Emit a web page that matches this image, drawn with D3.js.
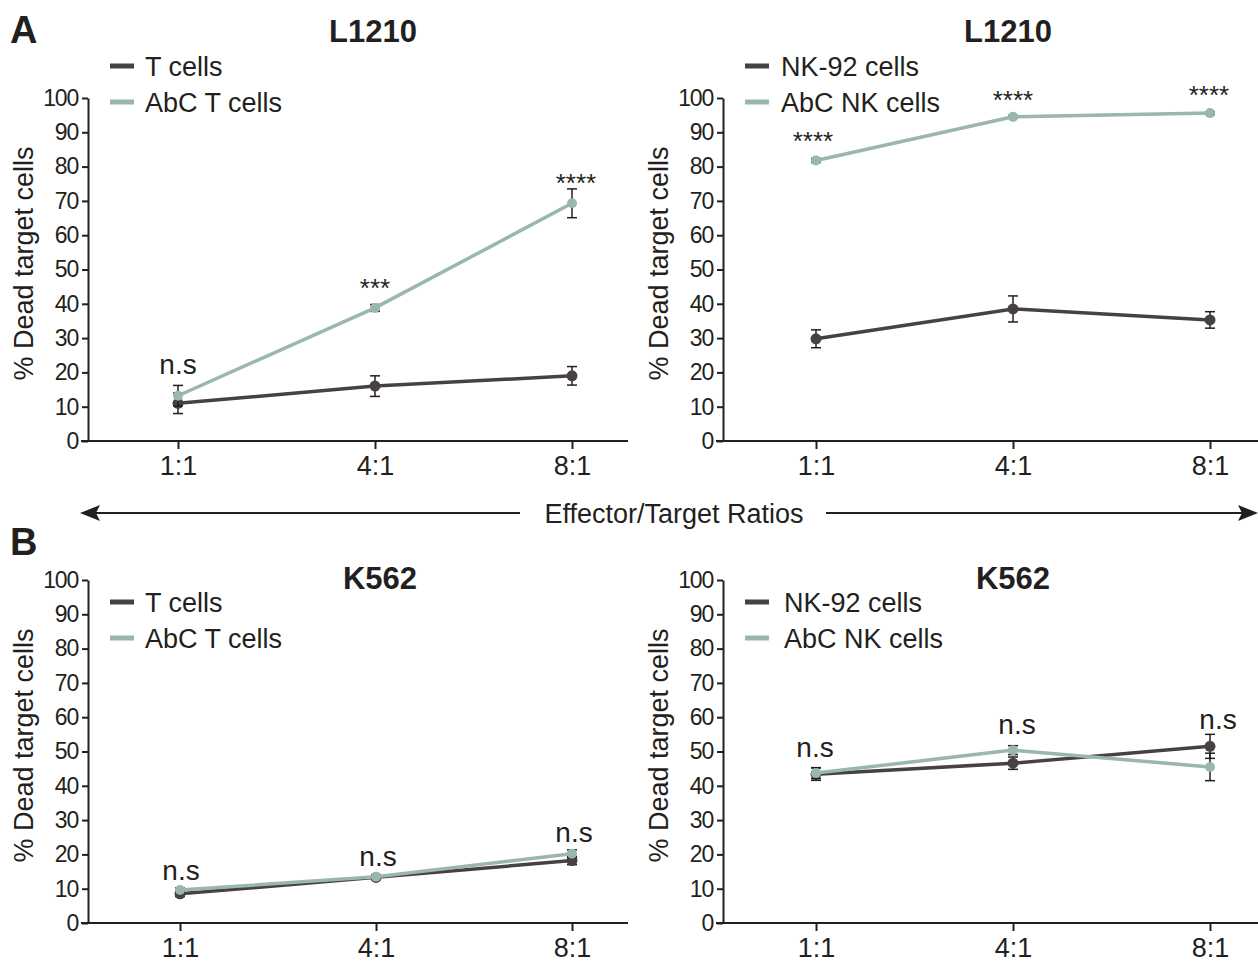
<!DOCTYPE html>
<html>
<head>
<meta charset="utf-8">
<script src="https://cdn.jsdelivr.net/npm/d3@7"></script>
<style>
  body { margin: 0; background: #fff; }
  text { font-family: "Liberation Sans", Arial, sans-serif; fill: #231f20; }
</style>
</head>
<body>
<svg id="chart" width="1258" height="962"></svg>
<script>
// values (mean, error)
var ratios = ['1:1', '4:1', '8:1'],
    yTicks = [0, 10, 20, 30, 40, 50, 60, 70, 80, 90, 100];

var l1210T = [11, 16, 19],         l1210TErr = [3, 3, 2.7],
    l1210AbcT = [13.2, 38.8, 69.3], l1210AbcTErr = [3, 1, 4.2],
    l1210Nk = [29.8, 38.5, 35.3],   l1210NkErr = [2.6, 3.8, 2.4],
    l1210AbcNk = [81.8, 94.5, 95.6],l1210AbcNkErr = [0.6, 0.4, 0.4];

var k562T = [8.5, 13.3, 18.2],      k562TErr = [0.8, 0.6, 1.2],
    k562AbcT = [9.6, 13.5, 20.2],   k562AbcTErr = [0.6, 0.5, 1.1],
    k562Nk = [43.4, 46.6, 51.5],    k562NkErr = [1.8, 1.8, 3.5],
    k562AbcNk = [43.7, 50.4, 45.5], k562AbcNkErr = [1.6, 1.3, 4];

var sigL1210T = ['n.s', '***', '****'],
    sigL1210Nk = ['****', '****', '****'],
    sigK562T = ['n.s', 'n.s', 'n.s'],
    sigK562Nk = ['n.s', 'n.s', 'n.s'];

var DARK = '#474142',
    TEAL = '#99b6af',
    INK = '#231f20';

var svg = d3.select('#chart');

function panel(o) {
    var x = d3.scalePoint().domain(ratios).range(o.xr),
        y = d3.scaleLinear().domain([0, 100]).range(o.yr),
        g = svg.append('g');

    // y axis
    var ya = g.append('g')
        .attr('transform', 'translate(' + o.ax + ',0)')
        .call(d3.axisLeft(y).tickValues(yTicks).tickSize(6).tickSizeOuter(0).tickPadding(4));
    ya.select('.domain').attr('stroke', INK).attr('stroke-width', 2);
    ya.selectAll('.tick line').attr('stroke', INK).attr('stroke-width', 2);
    ya.selectAll('.tick text').style('font-size', '23px').attr('fill', INK)
        .style('letter-spacing', '-1.2px');

    // x axis
    var xa = g.append('g')
        .attr('transform', 'translate(0,' + o.yr[0] + ')')
        .call(d3.axisBottom(x).tickSize(8).tickSizeOuter(0).tickPadding(6));
    xa.select('.domain').remove();
    xa.append('line')
        .attr('x1', o.ax - 7).attr('x2', o.xEnd)
        .attr('stroke', INK).attr('stroke-width', 2);
    xa.selectAll('.tick line').attr('stroke', INK).attr('stroke-width', 2);
    xa.selectAll('.tick text').style('font-size', '27px').attr('fill', INK)
        .attr('dy', '0.75em');

    // y label
    g.append('text')
        .attr('transform', 'translate(' + (o.ax - 55) + ',' + ((o.yr[0] + o.yr[1]) / 2 - 6) + ') rotate(-90)')
        .attr('text-anchor', 'middle')
        .style('font-size', '27px')
        .text('% Dead target cells');

    // title
    g.append('text')
        .attr('x', o.title[1]).attr('y', o.title[2])
        .attr('text-anchor', 'middle')
        .style('font-size', '31px').style('font-weight', 'bold')
        .text(o.title[0]);

    // series
    var line = d3.line().x(function (d) { return x(d.r); }).y(function (d) { return y(d.v); });
    o.series.forEach(function (s) {
        var pts = ratios.map(function (r, i) { return { r: r, v: s.vals[i], e: s.err[i] }; });
        var sg = g.append('g');
        sg.selectAll('line.err').data(pts).enter().append('line')
            .attr('x1', function (d) { return x(d.r); }).attr('x2', function (d) { return x(d.r); })
            .attr('y1', function (d) { return y(d.v - d.e); }).attr('y2', function (d) { return y(d.v + d.e); })
            .attr('stroke', INK).attr('stroke-width', 1.5);
        [-1, 1].forEach(function (sgn) {
            sg.selectAll(null).data(pts).enter().append('line')
                .attr('x1', function (d) { return x(d.r) - 5; }).attr('x2', function (d) { return x(d.r) + 5; })
                .attr('y1', function (d) { return y(d.v + sgn * d.e); }).attr('y2', function (d) { return y(d.v + sgn * d.e); })
                .attr('stroke', INK).attr('stroke-width', 1.5);
        });
        sg.append('path').datum(pts).attr('d', line)
            .attr('fill', 'none').attr('stroke', s.color).attr('stroke-width', 3.5);
        sg.selectAll('circle').data(pts).enter().append('circle')
            .attr('cx', function (d) { return x(d.r); }).attr('cy', function (d) { return y(d.v); })
            .attr('r', s.r).attr('fill', s.color);
    });

    // significance marks
    g.selectAll('text.sig').data(o.sig).enter().append('text')
        .attr('class', 'sig')
        .attr('x', function (d, i) { return x(ratios[i]) + o.sigDx[i]; })
        .attr('y', function (d, i) { return y(o.sigY[i]); })
        .attr('text-anchor', 'middle')
        .style('font-size', function (d) { return d === 'n.s' ? '28px' : '26px'; })
        .text(function (d) { return d; });

    // legend
    o.series.forEach(function (s, i) {
        var ly = o.leg[1] + i * 36;
        g.append('line')
            .attr('x1', o.leg[0]).attr('x2', o.leg[0] + 24)
            .attr('y1', ly).attr('y2', ly)
            .attr('stroke', s.color).attr('stroke-width', 5);
        g.append('text')
            .attr('x', o.leg[0] + o.leg[2]).attr('y', ly).attr('dy', '0.36em')
            .style('font-size', '27px')
            .text(s.name);
    });
}

panel({
    ax: 88, xr: [178, 572], xEnd: 628, yr: [441, 98],
    title: ['L1210', 373, 42],
    leg: [110, 66, 35],
    series: [
        { name: 'T cells', vals: l1210T, err: l1210TErr, color: DARK, r: 5.5 },
        { name: 'AbC T cells', vals: l1210AbcT, err: l1210AbcTErr, color: TEAL, r: 5 }
    ],
    sig: sigL1210T, sigY: [19.5, 42, 72.5], sigDx: [0, 0, 4]
});
panel({
    ax: 723, xr: [816, 1210], xEnd: 1258, yr: [441, 98],
    title: ['L1210', 1008, 42],
    leg: [745, 66, 36],
    series: [
        { name: 'NK-92 cells', vals: l1210Nk, err: l1210NkErr, color: DARK, r: 5.5 },
        { name: 'AbC NK cells', vals: l1210AbcNk, err: l1210AbcNkErr, color: TEAL, r: 5 }
    ],
    sig: sigL1210Nk, sigY: [84.8, 96.8, 98.3], sigDx: [-3, 0, -1]
});
panel({
    ax: 88, xr: [180, 572], xEnd: 628, yr: [923, 580],
    title: ['K562', 380, 589],
    leg: [110, 602, 35],
    series: [
        { name: 'T cells', vals: k562T, err: k562TErr, color: DARK, r: 5.5 },
        { name: 'AbC T cells', vals: k562AbcT, err: k562AbcTErr, color: TEAL, r: 5 }
    ],
    sig: sigK562T, sigY: [12.5, 16.5, 23.5], sigDx: [1, 2, 2]
});
panel({
    ax: 723, xr: [816, 1210], xEnd: 1258, yr: [923, 580],
    title: ['K562', 1013, 589],
    leg: [745, 602, 39],
    series: [
        { name: 'NK-92 cells', vals: k562Nk, err: k562NkErr, color: DARK, r: 5.5 },
        { name: 'AbC NK cells', vals: k562AbcNk, err: k562AbcNkErr, color: TEAL, r: 5 }
    ],
    sig: sigK562Nk, sigY: [48.5, 55, 56.5], sigDx: [-1, 4, 8]
});

// panel letters
svg.append('text').attr('x', 10).attr('y', 43)
    .style('font-size', '38px').style('font-weight', 'bold').attr('fill', '#000').text('A');
svg.append('text').attr('x', 10).attr('y', 555)
    .style('font-size', '38px').style('font-weight', 'bold').attr('fill', '#000').text('B');

// shared x label with arrows
var arrowY = 513;
svg.append('text').attr('x', 674).attr('y', arrowY).attr('dy', '0.36em')
    .attr('text-anchor', 'middle').style('font-size', '27px').text('Effector/Target Ratios');
svg.append('line').attr('x1', 92).attr('x2', 520).attr('y1', arrowY).attr('y2', arrowY)
    .attr('stroke', INK).attr('stroke-width', 2);
svg.append('line').attr('x1', 826).attr('x2', 1248).attr('y1', arrowY).attr('y2', arrowY)
    .attr('stroke', INK).attr('stroke-width', 2);
svg.append('path')
    .attr('d', 'M80,' + arrowY + ' l20,-8 l-4,8 l4,8 z').attr('fill', INK);
svg.append('path')
    .attr('d', 'M1258,' + arrowY + ' l-20,-8 l4,8 l-4,8 z').attr('fill', INK);
</script>
</body>
</html>
